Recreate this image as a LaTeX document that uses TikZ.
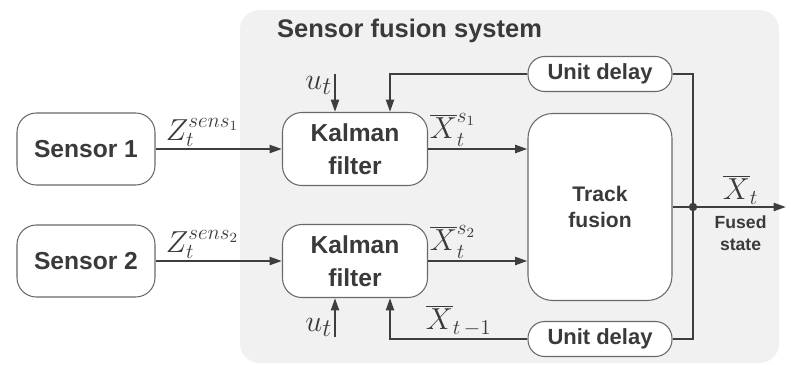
\documentclass[tikz,border=0pt]{standalone}
\usepackage{fontspec}
\setmainfont{Liberation Sans}
\usepackage{xcolor}
\usetikzlibrary{arrows.meta,positioning,calc}
\definecolor{linegray}{RGB}{62,62,62}
\definecolor{boxgray}{RGB}{105,105,105}
\definecolor{panelgray}{RGB}{241,241,241}
\definecolor{textgray}{RGB}{58,58,58}

\begin{document}
\begin{tikzpicture}[x=0.02cm,y=-0.02cm,
    block/.style={draw=boxgray,line width=0.6pt,fill=white,text=textgray,align=center,
        font=\fontsize{14}{18.5}\selectfont\bfseries},
    sensorbox/.style={block,minimum width=2.76cm,minimum height=1.44cm,rounded corners=11pt},
    kalmanbox/.style={block,minimum width=2.9cm,minimum height=1.46cm,rounded corners=11pt},
    fusionbox/.style={block,minimum width=2.88cm,minimum height=3.74cm,rounded corners=14pt,
        font=\fontsize{12}{15}\selectfont\bfseries},
    delaybox/.style={block,minimum width=2.88cm,minimum height=0.7cm,rounded corners=9.5pt,
        font=\fontsize{12.5}{14}\selectfont\bfseries},
    sig/.style={draw=linegray,line width=1.3pt,-{Triangle[length=7pt,width=4.5pt]}},
    wire/.style={draw=linegray,line width=1.3pt},
    lbl/.style={text=textgray,font=\fontsize{17}{19}\selectfont,inner sep=1pt}
]
    \useasboundingbox (0,0) rectangle (791,365);

    % Sensor fusion system panel
    \fill[panelgray,rounded corners=11pt] (240,10) rectangle (779,363);
    \node[font=\fontsize{14.5}{16}\selectfont\bfseries,text=textgray,anchor=west] (title) at (271,31) {Sensor fusion system};

    % Blocks
    \node[sensorbox] (sens1) at (86,149) {Sensor 1};
    \node[sensorbox] (sens2) at (86,261) {Sensor 2};
    \node[kalmanbox] (kf1) at (355,149) {Kalman\\filter};
    \node[kalmanbox] (kf2) at (355,261) {Kalman\\filter};
    \node[fusionbox] (fusion) at (600,207) {Track\\fusion};
    \node[delaybox] (delay1) at (600,74) {Unit delay};
    \node[delaybox] (delay2) at (600,339) {Unit delay};

    \coordinate (junc) at (693,207);
    \coordinate (out) at (786,207);

    % Measurements
    \draw[sig] (sens1) -- node[lbl,pos=0.37,above] {$Z_t^{sens_1}$} (kf1);
    \draw[sig] (sens2) -- node[lbl,pos=0.37,above] {$Z_t^{sens_2}$} (kf2);

    % Local estimates
    \draw[sig] (kf1) -- node[lbl,pos=0.25,above] {$\overline{X}_t^{s_1}$} (kf1 -| fusion.west);
    \draw[sig] (kf2) -- node[lbl,pos=0.25,above] {$\overline{X}_t^{s_2}$} (kf2 -| fusion.west);

    % Control inputs
    \draw[sig] ([xshift=-0.4cm,yshift=0.76cm]kf1.north) -- node[lbl,pos=0.3,left,font=\fontsize{19}{21}\selectfont] {$u_t$} ([xshift=-0.4cm]kf1.north);
    \draw[sig] ([xshift=-0.4cm,yshift=-0.78cm]kf2.south) -- node[lbl,pos=0.25,left,font=\fontsize{19}{21}\selectfont] {$u_t$} ([xshift=-0.4cm]kf2.south);

    % Feedback through unit delays
    \draw[sig] (delay1.west) -| ([xshift=0.7cm]kf1.north);
    \draw[sig] (delay2.west) -| node[lbl,pos=0.25,above] {$\overline{X}_{t\,-1}$} ([xshift=0.7cm]kf2.south);
    \draw[wire] (delay1.east) -| (junc);
    \draw[wire] (delay2.east) -| (junc);

    % Fused output
    \draw[sig] (fusion.east |- junc) -- node[lbl,pos=0.6,above] {$\overline{X}_t$}
        node[pos=0.6,below=1pt,text=textgray,align=center,font=\fontsize{10}{12.5}\selectfont\bfseries] (fused) {Fused\\state} (out);
    \fill[linegray] (junc) circle (2.4pt);
\end{tikzpicture}
\end{document}
